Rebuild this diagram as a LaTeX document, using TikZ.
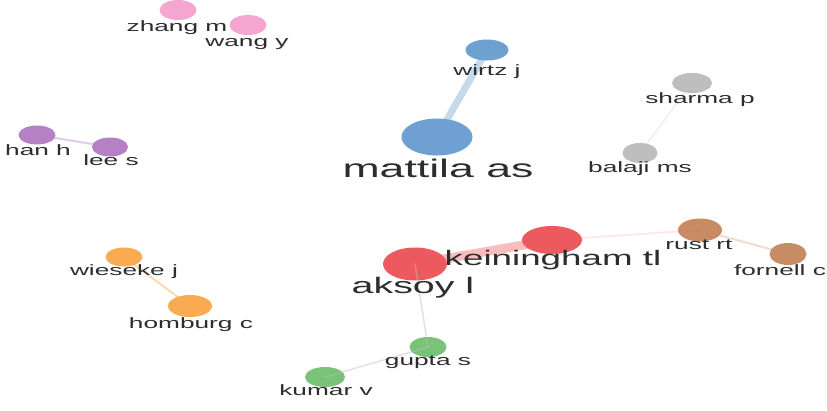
\documentclass[tikz,border=0pt]{standalone}
\usepackage{fontspec}
\setmainfont{Liberation Sans}
\usetikzlibrary{shapes.geometric}

\definecolor{pinkc}{RGB}{244,166,208}
\definecolor{purplec}{RGB}{181,128,196}
\definecolor{bluec}{RGB}{110,160,210}
\definecolor{grayc}{RGB}{190,190,190}
\definecolor{redc}{RGB}{236,90,96}
\definecolor{brownc}{RGB}{200,140,100}
\definecolor{orangec}{RGB}{250,170,80}
\definecolor{greenc}{RGB}{120,195,120}
\definecolor{labelgray}{RGB}{45,45,45}

\tikzset{
  author/.style={ellipse, inner sep=0pt, draw=none},
  tag/.style={text=labelgray, anchor=base, xscale=1.75, inner sep=0pt, font=\fontsize{15}{18}\selectfont},
  midtag/.style={tag, font=\fontsize{21}{25}\selectfont},
  bigtag/.style={tag, font=\fontsize{25.5}{30}\selectfont},
  link/.style={line cap=round},
}

\begin{document}
\begin{tikzpicture}[x=1pt, y=-1pt]
    \useasboundingbox (0,0) rectangle (827,410);
    \fill[white] (0,0) rectangle (827,410);

    \node[author, fill=pinkc, minimum width=37, minimum height=20] (zhang) at (178,10) {};
    \node[author, fill=pinkc, minimum width=37, minimum height=20] (wang) at (248,25) {};
    \node[author, fill=purplec, minimum width=37, minimum height=19] (han) at (37,135) {};
    \node[author, fill=purplec, minimum width=36, minimum height=19] (lee) at (110,147) {};
    \node[author, fill=bluec, minimum width=43, minimum height=21] (wirtz) at (487,50) {};
    \node[author, fill=bluec, minimum width=71, minimum height=37] (mattila) at (437,137) {};
    \node[author, fill=grayc, minimum width=40, minimum height=20] (sharma) at (692,83) {};
    \node[author, fill=grayc, minimum width=35, minimum height=20] (balaji) at (640,153) {};
    \node[author, fill=redc, minimum width=60, minimum height=28] (keiningham) at (552,240) {};
    \node[author, fill=redc, minimum width=64, minimum height=33] (aksoy) at (415,264) {};
    \node[author, fill=brownc, minimum width=44, minimum height=23] (rust) at (700,230) {};
    \node[author, fill=brownc, minimum width=37, minimum height=22] (fornell) at (788,254) {};
    \node[author, fill=orangec, minimum width=37, minimum height=19] (wieseke) at (124,257) {};
    \node[author, fill=orangec, minimum width=44, minimum height=22] (homburg) at (190,306) {};
    \node[author, fill=greenc, minimum width=37, minimum height=20] (gupta) at (428,347) {};
    \node[author, fill=greenc, minimum width=40, minimum height=20] (kumar) at (325,377) {};

    \draw[link, purplec, opacity=0.4, line width=2] (han.center) -- (lee.center);
    \draw[link, bluec, opacity=0.4, line width=7] (mattila.center) -- (wirtz.center);
    \draw[link, grayc, opacity=0.35, line width=1] (sharma.center) -- (balaji.center);
    \draw[link, redc, opacity=0.4, line width=9] (aksoy.center) -- (keiningham.center);
    \draw[link, redc, opacity=0.12, line width=2] (keiningham.center) -- (rust.center);
    \draw[link, brownc, opacity=0.3, line width=2] (rust.center) -- (fornell.center);
    \draw[link, orangec, opacity=0.45, line width=2] (wieseke.center) -- (homburg.center);
    \draw[link, grayc, opacity=0.45, line width=1.5] (aksoy.center) -- (gupta.center);
    \draw[link, grayc, opacity=0.45, line width=1.5] (gupta.center) -- (kumar.center);

    \node[tag] (zhang-lbl) at (177,31) {zhang m};
    \node[tag] (wang-lbl) at (247,46) {wang y};
    \node[tag] (han-lbl) at (38,155) {han h};
    \node[tag] (lee-lbl) at (111,165) {lee s};
    \node[tag] (wirtz-lbl) at (487,75) {wirtz j};
    \node[bigtag] (mattila-lbl) at (438,177) {mattila as};
    \node[tag] (sharma-lbl) at (700,103) {sharma p};
    \node[tag] (balaji-lbl) at (640,172) {balaji ms};
    \node[midtag] (keiningham-lbl) at (553,265) {keiningham tl};
    \node[bigtag, font=\fontsize{22.5}{27}\selectfont] (aksoy-lbl) at (413,293) {aksoy l};
    \node[tag] (rust-lbl) at (699,249) {rust rt};
    \node[tag] (fornell-lbl) at (780,275) {fornell c};
    \node[tag] (wieseke-lbl) at (124,275) {wieseke j};
    \node[tag] (homburg-lbl) at (191,328) {homburg c};
    \node[tag] (gupta-lbl) at (428,365) {gupta s};
    \node[tag] (kumar-lbl) at (326,395) {kumar v};
\end{tikzpicture}
\end{document}
